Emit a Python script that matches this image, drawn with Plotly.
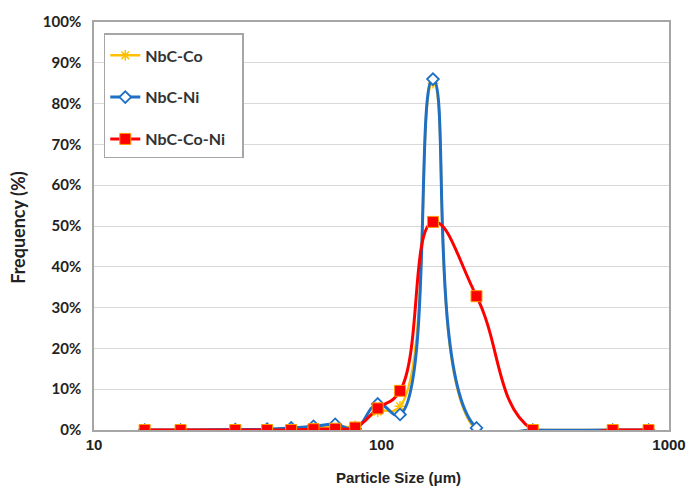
import plotly.graph_objects as go

sizes = [15, 20, 31, 40, 48.5, 58, 69, 81, 97, 116, 151, 214, 336, 637, 849]
nbc_co = [0, 0, 0, 0.1, 0.3, 0.5, 0.9, 1.0, 4.5, 5.8, 85.0, 0.0, 0, 0, 0]
nbc_ni = [0, 0, 0.1, 0.2, 0.5, 0.9, 1.4, 0.3, 6.4, 3.8, 86.0, 0.5, 0, 0, 0]
nbc_co_ni = [0, 0, 0, 0, 0, 0.2, 0.3, 0.6, 5.3, 9.6, 51.0, 32.8, 0, 0, 0]

series_names = ["NbC-Co", "NbC-Ni", "NbC-Co-Ni"]
y_ticks = list(range(0, 101, 10))
x_ticks = [10, 100, 1000]

calibri_like = "Lato, Open Sans, sans-serif"
arial_like = "Liberation Sans, Arial, sans-serif"

fig = go.Figure()
fig.add_trace(go.Scatter(
    x=sizes, y=nbc_co, name=series_names[0], mode="lines+markers",
    line=dict(color="#FFC000", width=2.5, shape="spline", smoothing=1.3),
    marker=dict(symbol="asterisk-open", size=9, color="#FFC000", line=dict(color="#FFC000", width=1.5)),
    legendgroup="a",
))
fig.add_trace(go.Scatter(
    x=sizes, y=nbc_ni, name=series_names[1], mode="lines+markers",
    line=dict(color="#1F6FC5", width=3, shape="spline", smoothing=1.3),
    marker=dict(symbol="diamond", size=9, color="white", line=dict(color="#1F6FC5", width=1.8)),
    legendgroup="b",
))
fig.add_trace(go.Scatter(
    x=sizes, y=nbc_co_ni, name=series_names[2], mode="lines+markers",
    line=dict(color="#FF0000", width=3, shape="spline", smoothing=1.3),
    marker=dict(symbol="square", size=11, color="#FF0000", line=dict(color="#FF9900", width=1)),
    legendgroup="c",
))

fig.update_layout(
    width=698, height=486,
    margin=dict(l=94, r=19, t=21, b=56),
    paper_bgcolor="white", plot_bgcolor="white",
    font=dict(family=calibri_like, size=13, color="#222222"),
    showlegend=True,
    legend=dict(
        x=0.017, y=0.973, xanchor="left", yanchor="top",
        bordercolor="#a6a6a6", borderwidth=1.5, bgcolor="white",
        font=dict(size=16, color="#333333", family=calibri_like),
        title=dict(text=" ", font=dict(size=3)),
        tracegroupgap=18, traceorder="grouped",
        itemwidth=30,
    ),
    xaxis=dict(
        type="log", range=[1, 3],
        tickvals=x_ticks, ticktext=[f"<b>{v}</b>" for v in x_ticks],
        showgrid=False, zeroline=False,
        showline=True, linecolor="#a6a6a6", linewidth=1.5, mirror=True,
        ticks="", tickfont=dict(size=15, color="#222222", family=arial_like),
    ),
    yaxis=dict(
        range=[0, 100], tickvals=y_ticks, ticktext=[f"<b>{v}%</b>" for v in y_ticks],
        showgrid=True, gridcolor="#d9d9d9", gridwidth=1, zeroline=False,
        showline=True, linecolor="#a6a6a6", linewidth=1.5, mirror=True,
        ticks="", ticklabelstandoff=8,
        tickfont=dict(size=15, color="#222222", family=calibri_like),
    ),
    annotations=[
        dict(text="<b>Particle Size (μm)</b>", xref="paper", yref="paper",
             x=(404 - 94) / 585, y=-(478 - 430) / 409, xanchor="center", yanchor="middle",
             showarrow=False, font=dict(size=15, family=arial_like, color="#222222")),
        dict(text="<b>Frequency (%)</b>", xref="paper", yref="paper",
             x=-(94 - 17) / 585, y=(430 - 227) / 409, xanchor="center", yanchor="middle",
             textangle=-90, showarrow=False, font=dict(size=18, family=calibri_like, color="#222222")),
    ],
)
fig.for_each_trace(lambda t: t.update(name=f"<b>{t.name}</b>&nbsp;&nbsp;&nbsp;"))

fig.write_html("out.html", config={"displayModeBar": False},
               post_script="document.body.style.margin='0';")
